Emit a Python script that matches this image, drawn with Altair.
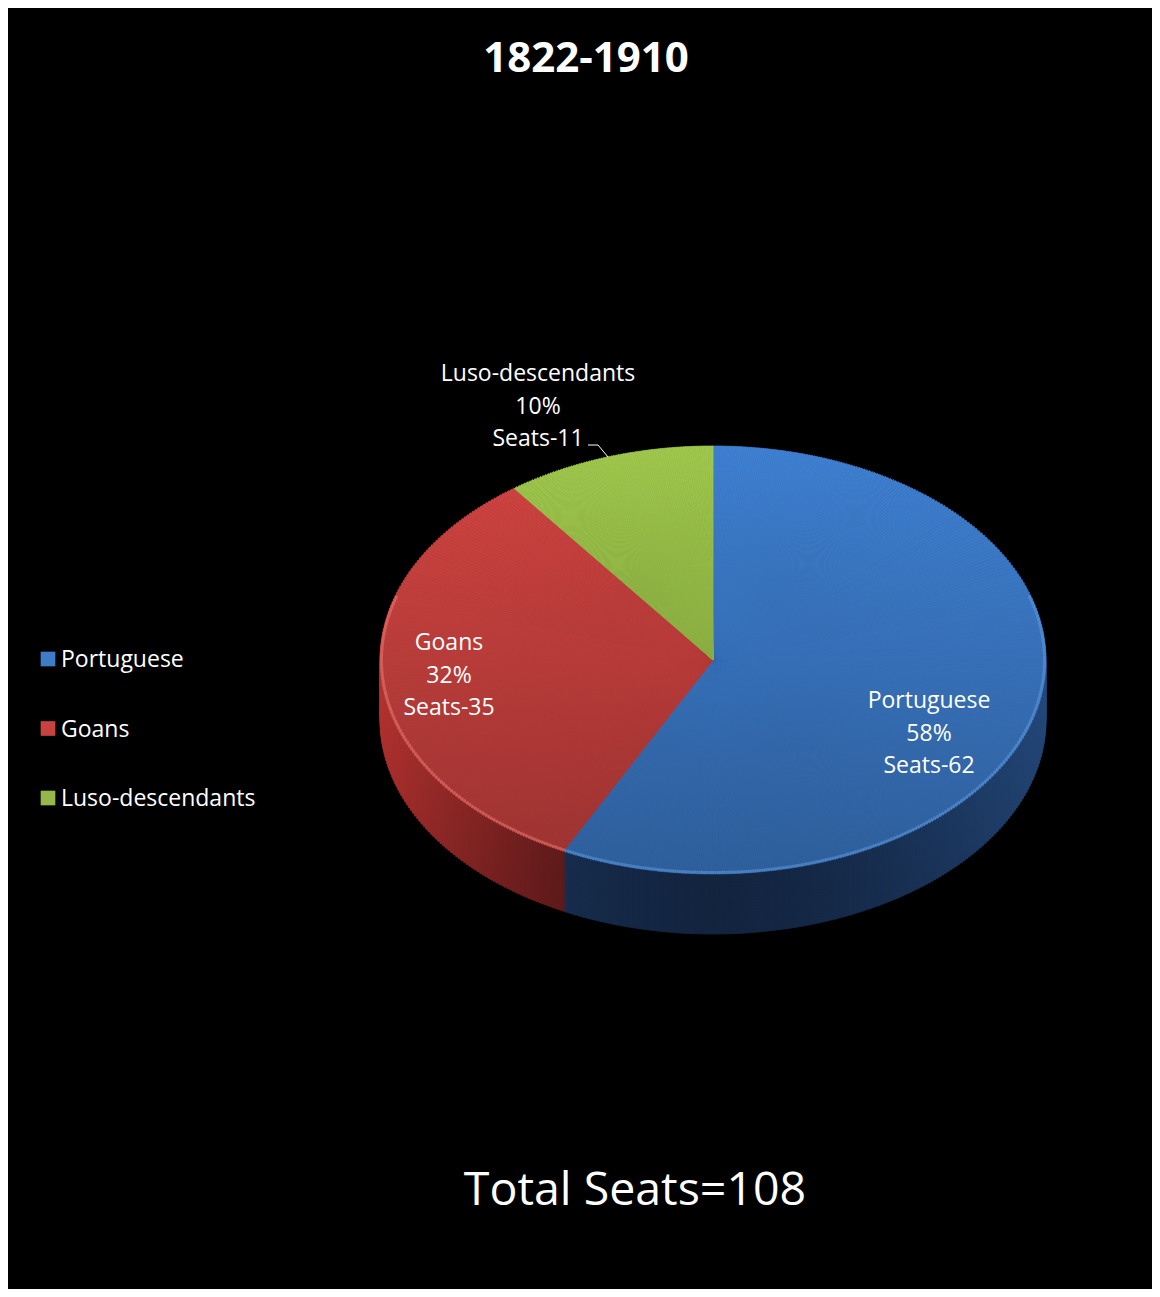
import numpy as np
import pandas as pd
import altair as alt

# ---------------- data ----------------
categories = ["Portuguese", "Goans", "Luso-descendants"]
seats = [62, 35, 11]
percent_text = ["58%", "32%", "10%"]
chart_title = "1822-1910"
footer_text = "Total Seats=108"

# ---------------- layout / style (not data) ----------------
W, H = 1144, 1281
CX, CY = 705, 652          # centre of the pie's top face
RX, RY = 333, 214          # half axes of the tilted (elliptical) top face
DEPTH = 60                 # thickness of the 3-D pie
FONT = "Open Sans"
SHADE = 0.26               # darkening at the bottom of the top face
top_colors = ["#3f80d2", "#d24542", "#a0c84c"]
rim_colors = ["#5f9ae0", "#ee7a74", "#bedc78"]
wall_light = ["#2a5590", "#d23b38", "#a0cc4a"]
wall_dark = ["#1a3156", "#7e2323", "#688730"]
legend_colors = ["#3f7cc8", "#c8433f", "#94b84a"]
label_pos = [(921, 693), (441, 635), (530, 366)]   # centre of first line
leader_pts = [(580, 437), (590, 437), (600, 449)]
legend_x, legend_y0, legend_dy = 40, 651, 69.5
STEP = np.radians(0.6)


def hex2rgb(h):
    return np.array([int(h[k:k + 2], 16) for k in (1, 3, 5)], float)


def mix(c1, c2, w):
    c = hex2rgb(c1) * (1 - w) + hex2rgb(c2) * w
    return "#%02x%02x%02x" % tuple(int(round(v)) for v in c)


def to_screen(t):
    """parametric ellipse angle -> screen angle (0 = 12 o'clock, clockwise)"""
    s = np.arctan2(RX * np.sin(t), RY * np.cos(t))
    return t + ((s - t + np.pi) % (2 * np.pi)) - np.pi


def ellipse_r(phi):
    return 1.0 / np.sqrt((np.sin(phi) / RX) ** 2 + (np.cos(phi) / RY) ** 2)


total = float(sum(seats))
bounds = np.concatenate([[0.0], np.cumsum(seats)]) / total * 2 * np.pi

rows = []
for i, cat in enumerate(categories):
    p0, p1 = to_screen(bounds[i]), to_screen(bounds[i + 1])
    n = max(2, int(np.ceil((p1 - p0) / STEP)))
    edges = np.linspace(p0, p1, n + 1)
    for a0, a1 in zip(edges[:-1], edges[1:]):
        mid = 0.5 * (a0 + a1)
        r = ellipse_r(mid)
        sin_t = abs(r * np.sin(mid) / RX)
        rows.append(dict(cat=cat, i=i, th0=a0, th1=a1, mid=mid, r=r, sin_t=sin_t))
pieces = pd.DataFrame(rows)

# top face
top = pieces.copy()
top["cx"] = CX
top["cy"] = CY
top["col"] = [top_colors[i] for i in top["i"]]

# cylinder wall (stacked darker copies, front half only)
front = pieces[np.cos(pieces["mid"]) < 0.2].copy()


def wall_col(row):
    i = int(row["i"])
    if i == 1:
        w = min(1.0, max(0.0, (row["sin_t"] - 0.45) / 0.55))
    else:
        w = row["sin_t"] ** 1.5
    return mix(wall_dark[i], wall_light[i], w)


front["col"] = front.apply(wall_col, axis=1)
walls = []
for d in range(DEPTH, 0, -3):
    f = front.copy()
    f["cx"] = CX
    f["cy"] = CY + d
    walls.append(f)
wall = pd.concat(walls, ignore_index=True)

# rim highlight along the front edge of the top face
rim = front.copy()
rim["cx"] = CX
rim["cy"] = CY
rim["r2"] = rim["r"] - 3.0
rim["col"] = [rim_colors[i] for i in rim["i"]]


def arc_layer(df, stroke=True, inner=False, opacity=1.0):
    enc = dict(
        x=alt.X("cx:Q", scale=None),
        y=alt.Y("cy:Q", scale=None),
        theta=alt.Theta("th0:Q", scale=None, stack=False),
        theta2=alt.Theta2("th1:Q"),
        radius=alt.Radius("r:Q", scale=None),
        color=alt.Color("col:N", scale=None),
    )
    if inner:
        enc["radius2"] = alt.Radius2("r2:Q")
    if stroke:
        enc["stroke"] = alt.Stroke("col:N", scale=None)
    return alt.Chart(df).mark_arc(strokeWidth=0.8, opacity=opacity).encode(**enc)


wall_layer = arc_layer(wall[["cx", "cy", "th0", "th1", "r", "col"]])
top_layer = arc_layer(top[["cx", "cy", "th0", "th1", "r", "col"]])

face_frac = (2 * RY) / (2 * RY + DEPTH)
shade = alt.Chart(alt.Data(values=[{}])).mark_rect(
    color=alt.LinearGradient(
        gradient="linear",
        stops=[alt.GradientStop(color="rgba(0,0,0,0)", offset=0),
               alt.GradientStop(color=f"rgba(0,0,0,{SHADE})", offset=face_frac),
               alt.GradientStop(color=f"rgba(0,0,0,{SHADE})", offset=1)],
        x1=0, x2=0, y1=0, y2=1,
    )
).encode(
    x=alt.value(CX - RX - 2), x2=alt.value(CX + RX + 2),
    y=alt.value(CY - RY - 2), y2=alt.value(CY + RY + DEPTH + 2),
)

rim_layer = arc_layer(rim[["cx", "cy", "th0", "th1", "r", "r2", "col"]],
                      stroke=False, inner=True, opacity=0.55)

# data labels
lab = pd.DataFrame({
    "text": [f"{c}\n{p}\nSeats-{s}" for c, p, s in zip(categories, percent_text, seats)],
    "x": [p[0] for p in label_pos],
    "y": [p[1] for p in label_pos],
})
labels = alt.Chart(lab).mark_text(
    font=FONT, fontSize=23, color="white", align="center", baseline="middle",
    lineBreak="\n", lineHeight=32.5,
).encode(x=alt.X("x:Q", scale=None), y=alt.Y("y:Q", scale=None), text="text:N")

lead = pd.DataFrame({"x": [p[0] for p in leader_pts],
                     "y": [p[1] for p in leader_pts],
                     "k": list(range(len(leader_pts)))})
leader = alt.Chart(lead).mark_line(color="white", strokeWidth=1).encode(
    x=alt.X("x:Q", scale=None), y=alt.Y("y:Q", scale=None), order="k:Q")

# legend
leg = pd.DataFrame({
    "cat": categories,
    "col": legend_colors,
    "x": [legend_x] * len(categories),
    "tx": [legend_x + 13] * len(categories),
    "y": [legend_y0 + k * legend_dy for k in range(len(categories))],
})
leg_sq = alt.Chart(leg).mark_square(size=215, opacity=1, strokeWidth=1).encode(
    x=alt.X("x:Q", scale=None), y=alt.Y("y:Q", scale=None),
    color=alt.Color("col:N", scale=None))
leg_tx = alt.Chart(leg).mark_text(
    font=FONT, fontSize=23, color="white", align="left", baseline="middle", dy=1
).encode(x=alt.X("tx:Q", scale=None), y=alt.Y("y:Q", scale=None), text="cat:N")

title = alt.Chart(alt.Data(values=[{}])).mark_text(
    text=chart_title, font=FONT, fontSize=42, fontWeight="bold", color="white",
    align="center", baseline="alphabetic",
).encode(x=alt.value(578), y=alt.value(64))

footer = alt.Chart(alt.Data(values=[{}])).mark_text(
    text=footer_text, font=FONT, fontSize=46.5, color="white",
    align="center", baseline="alphabetic",
).encode(x=alt.value(627), y=alt.value(1197))

chart = alt.layer(
    wall_layer, top_layer, shade, rim_layer, labels, leader, leg_sq, leg_tx, title, footer
).properties(
    width=W, height=H, background="black", padding=0
).configure_view(stroke=None)

chart.save("out.html", embed_options={"renderer": "svg", "actions": False})
